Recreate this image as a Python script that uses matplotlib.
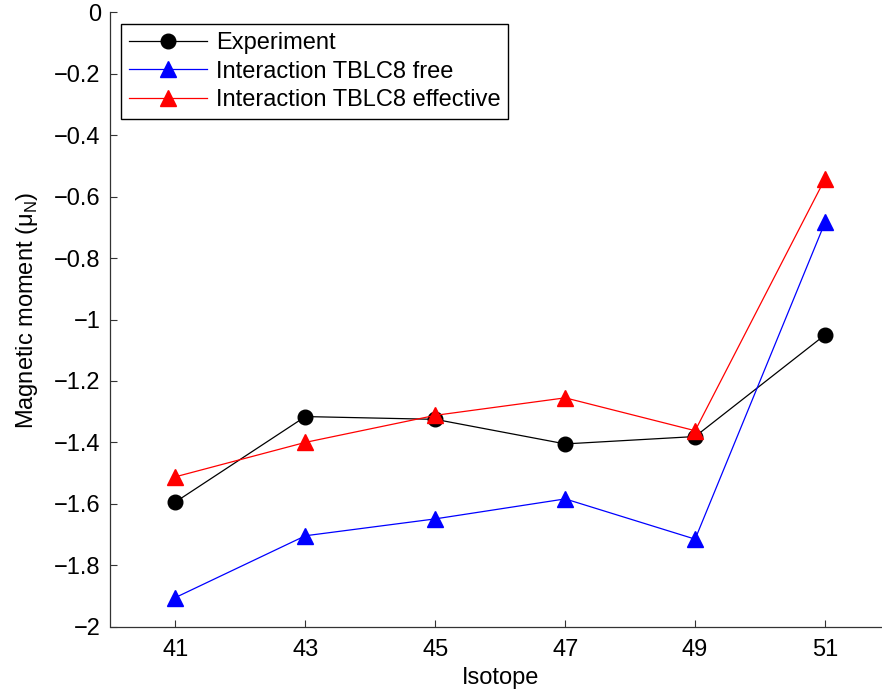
import matplotlib
matplotlib.use('Agg')
import matplotlib.pyplot as plt

plt.rcParams['font.family'] = ['Liberation Sans', 'DejaVu Sans']

isotopes = [41, 43, 45, 47, 49, 51]
experiment = [-1.594, -1.316, -1.325, -1.405, -1.381, -1.050]
tblc8_free = [-1.905, -1.704, -1.649, -1.584, -1.715, -0.684]
tblc8_effective = [-1.512, -1.400, -1.312, -1.255, -1.362, -0.542]

xtick_labels = ['41', '43', '45', '47', '49', '51']
ytick_values = [0, -0.2, -0.4, -0.6, -0.8, -1, -1.2, -1.4, -1.6, -1.8, -2]
ytick_labels = ['0', '\u22120.2', '\u22120.4', '\u22120.6', '\u22120.8', '\u22121',
                '\u22121.2', '\u22121.4', '\u22121.6', '\u22121.8', '\u22122']

fig = plt.figure(figsize=(8.82, 6.93), dpi=100)
ax = fig.add_axes([110.5 / 882, 1 - 626.7 / 693, 779.5 / 882, 614.4 / 693])

ax.plot(isotopes, experiment, color='black', lw=0.9, marker='o', ms=10.5,
        label='Experiment')
ax.plot(isotopes, tblc8_free, color='blue', lw=0.9, marker='^', ms=11,
        label='Interaction TBLC8 free')
ax.plot(isotopes, tblc8_effective, color='red', lw=0.9, marker='^', ms=11,
        label='Interaction TBLC8 effective')

ax.set_xlim(40, 52)
ax.set_ylim(-2, 0)
ax.set_xticks(isotopes)
ax.set_xticklabels(xtick_labels)
ax.set_yticks(ytick_values)
ax.set_yticklabels(ytick_labels)

for side in ['top', 'right']:
    ax.spines[side].set_visible(False)
for side in ['left', 'bottom']:
    ax.spines[side].set_color('#333333')
    ax.spines[side].set_linewidth(0.9)
ax.tick_params(direction='in', length=5, width=0.8, color='#333333',
               labelsize=17, labelcolor='black')
ax.tick_params(axis='x', pad=9)
ax.tick_params(axis='y', pad=7)

ax.set_xlabel('Isotope', fontsize=17, labelpad=4.5)
ax.set_ylabel('Magnetic moment (\u03bc$_\\mathregular{N}$)', fontsize=17)
ax.yaxis.set_label_coords(-0.091, 0.514)

leg = ax.legend(loc='upper left', bbox_to_anchor=(11 / 779.5, 1 - 12 / 614.4),
                borderaxespad=0, fontsize=17, handlelength=3.3, handletextpad=0.36,
                labelspacing=0.28, borderpad=0.33, fancybox=False, framealpha=1)
leg.get_frame().set_edgecolor('black')
leg.get_frame().set_linewidth(1.0)

fig.savefig('out.png', dpi=100)
